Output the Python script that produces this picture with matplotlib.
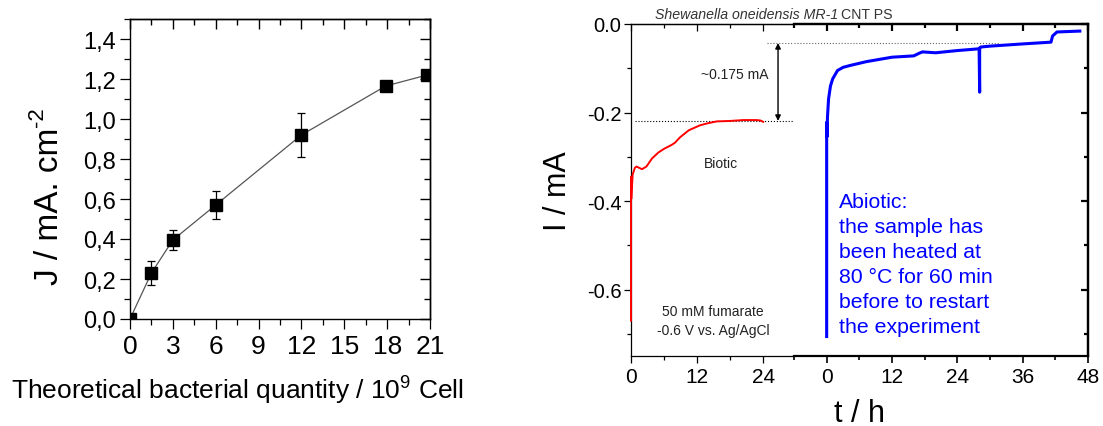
import matplotlib
matplotlib.use('Agg')
import matplotlib.pyplot as plt
from matplotlib.ticker import MultipleLocator, FixedLocator, FuncFormatter

plt.rcParams['font.family'] = ['Liberation Sans', 'DejaVu Sans']
plt.rcParams['mathtext.fontset'] = 'custom'
plt.rcParams['mathtext.rm'] = 'Liberation Sans'

#----------------------------------------------------------
# left panel : current density vs bacterial quantity
cells_x   = [0, 1.5, 3, 6, 12, 17.9, 20.8]
density_j = [0.0, 0.23, 0.395, 0.57, 0.92, 1.165, 1.22]
density_e = [0.0, 0.06, 0.05, 0.068, 0.11, 0.0, 0.0]

# right panel : chronoamperometry, biotic (red) and abiotic (blue)
bio_t = [0, 0, 0.05, 0.3, 0.7, 1.0, 2.0, 2.8, 3.8, 5.0, 6.0, 7.4, 8.0, 8.9,
         10.5, 12.5, 14.0, 15.6, 18.0, 20.4, 22.8, 23.5, 24.0]
bio_i = [-0.67, -0.345, -0.395, -0.34, -0.325, -0.322, -0.328, -0.322, -0.304,
         -0.29, -0.282, -0.273, -0.268, -0.256, -0.24, -0.229, -0.224, -0.220,
         -0.219, -0.217, -0.217, -0.218, -0.221]

abio_t = [0, 0, 0.05, 0.15, 0.35, 0.7, 1.1, 2.0, 3.0, 4.2, 7.3, 12, 16, 17,
          17.6, 20, 24, 28.0, 28.1, 28.1, 28.3, 30, 36, 41.2, 41.5, 42.3, 46.5]
abio_i = [-0.706, -0.222, -0.255, -0.21, -0.169, -0.14, -0.124, -0.105, -0.098,
          -0.094, -0.085, -0.075, -0.072, -0.066, -0.063, -0.065, -0.06, -0.056,
          -0.154, -0.054, -0.052, -0.05, -0.045, -0.041, -0.027, -0.018, -0.016]

biotic_level  = -0.219
abiotic_level = -0.043

W, H = 1103, 427
fig = plt.figure(figsize=(W/100, H/100), dpi=100)

#----------------------------------------------------------
def mirror_ticks(ax, top=True, right=True, xminor=None, yminor=None, length=(6, 3), lw=0.9):
	#Origin style: mirrored ticks pointing inwards on top/right
	if top:
		sx = ax.secondary_xaxis('top')
		sx.set_xticks(ax.get_xticks())
		if xminor is not None:
			sx.xaxis.set_minor_locator(xminor)
		sx.tick_params(which='both', direction='in', labeltop=False, width=lw)
		sx.tick_params(which='major', length=length[0])
		sx.tick_params(which='minor', length=length[1])
		sx.spines['top'].set_linewidth(lw)
	if right:
		sy = ax.secondary_yaxis('right')
		sy.set_yticks(ax.get_yticks())
		if yminor is not None:
			sy.yaxis.set_minor_locator(yminor)
		sy.tick_params(which='both', direction='in', labelright=False, width=lw)
		sy.tick_params(which='major', length=length[0])
		sy.tick_params(which='minor', length=length[1])
		sy.spines['right'].set_linewidth(lw)

#----------------------------------------------------------
axL = fig.add_axes([130/W, 107/H, 300/W, 300/H])
axL.plot(cells_x, density_j, color='#555555', lw=0.9, zorder=2)
axL.errorbar(cells_x, density_j, yerr=density_e, fmt='none', ecolor='black',
	elinewidth=0.9, capsize=3, capthick=0.9, zorder=3)
axL.plot(cells_x, density_j, ls='none', marker='s', ms=9, color='black', zorder=4)
axL.set_xlim(0, 21)
axL.set_ylim(0, 1.5)
axL.set_xticks([0, 3, 6, 9, 12, 15, 18, 21])
axL.set_yticks([0, 0.2, 0.4, 0.6, 0.8, 1.0, 1.2, 1.4])
axL.xaxis.set_minor_locator(MultipleLocator(1.5))
axL.yaxis.set_minor_locator(MultipleLocator(0.1))
axL.yaxis.set_major_formatter(FuncFormatter(lambda v, p: ('%.1f' % v).replace('.', ',')))
axL.tick_params(which='both', direction='out', width=0.9)
axL.tick_params(which='major', length=7)
axL.tick_params(which='minor', length=4)
axL.tick_params(axis='y', labelsize=17, pad=3)
axL.tick_params(axis='x', labelsize=19, pad=4)
for s in axL.spines.values():
	s.set_linewidth(1.0)
mirror_ticks(axL, xminor=MultipleLocator(1.5), yminor=MultipleLocator(0.1), length=(7, 4), lw=1.0)

# y label with a plain hyphen superscript
ylab = fig.text(49/W, 1 - 285/H, 'J / mA. cm', rotation=90, ha='center', va='bottom', fontsize=24)
bb = ylab.get_window_extent(fig.canvas.get_renderer())
fig.text(37/W, (bb.y1 + 1)/H, '-2', rotation=90, ha='center', va='bottom', fontsize=16)
fig.text(237/W, 1 - 400/H, r'Theoretical bacterial quantity / 10$\mathregular{^{9}}$ Cell',
	ha='center', va='baseline', fontsize=19)

#----------------------------------------------------------
# right panel, broken time axis
y0, h0 = 70/H, 332/H
ax1 = fig.add_axes([631/W, y0, 163/W, h0])
ax2 = fig.add_axes([794/W, y0, 294/W, h0], sharey=ax1)

ax1.plot(bio_t, bio_i, color='#ff0000', lw=1.4, zorder=3, clip_on=False)
ax2.plot(abio_t, abio_i, color='#0000ff', lw=2.2, zorder=3)

ax1.set_xlim(0, 29.6)
ax2.set_xlim(-6, 48)
ax1.set_ylim(-0.75, 0)
ax1.set_xticks([0, 12, 24])
ax1.xaxis.set_minor_locator(FixedLocator([6, 18]))
ax2.set_xticks([0, 12, 24, 36, 48])
ax2.xaxis.set_minor_locator(FixedLocator([-6, 6, 18, 30, 42]))
ax1.set_yticks([-0.6, -0.4, -0.2, 0.0])
ax1.yaxis.set_minor_locator(MultipleLocator(0.1))
ax1.yaxis.set_major_formatter(FuncFormatter(lambda v, p: '%.1f' % v if abs(v) > 1e-9 else '0.0'))

ax1.spines['right'].set_visible(False)
ax2.spines['left'].set_visible(False)
for s in ax1.spines.values():
	s.set_linewidth(0.9)
for s in ax2.spines.values():
	s.set_linewidth(1.6)

ax1.tick_params(which='both', direction='out', width=0.9)
ax1.tick_params(which='major', length=5)
ax1.tick_params(which='minor', length=3)
ax1.tick_params(axis='y', labelsize=14.5, pad=2)
ax1.tick_params(axis='x', labelsize=15, pad=3)
mirror_ticks(ax1, right=False, xminor=FixedLocator([6, 18]), length=(5, 3), lw=0.9)
ax2.tick_params(axis='y', which='both', left=False, labelleft=False)
ax2.tick_params(axis='x', which='both', direction='out', width=1.2, labelsize=15, pad=3)
ax2.tick_params(axis='x', which='major', length=5)
ax2.tick_params(axis='x', which='minor', length=3)
mirror_ticks(ax2, xminor=FixedLocator([-6, 6, 18, 30, 42]), yminor=MultipleLocator(0.1),
	length=(5, 3), lw=1.6)

# reference levels and arrow
ax1.plot([0.7, 30], [biotic_level]*2, ls=':', color='black', lw=0.8, clip_on=False)
ax1.plot([24.7, 29.6], [abiotic_level]*2, ls=':', color='#666666', lw=0.8)
ax2.plot([-6, 31.8], [abiotic_level]*2, ls=':', color='#666666', lw=0.8)
ax1.annotate('', xy=(26.7, biotic_level), xytext=(26.7, abiotic_level),
	arrowprops=dict(arrowstyle='<|-|>', color='black', lw=1, mutation_scale=8,
		shrinkA=0, shrinkB=0))

ax1.text(18.9, -0.113, '~0.175 mA', ha='center', va='center', fontsize=10, color='#222222')
ax1.text(16.3, -0.313, 'Biotic', ha='center', va='center', fontsize=10, color='#222222')
ax1.text(14.9, -0.67, '50 mM fumarate\n-0.6 V vs. Ag/AgCl', ha='center', va='center',
	fontsize=10, color='#222222', linespacing=1.5)
ax2.text(2.3, -0.38, 'Abiotic:\nthe sample has\nbeen heated at\n80 °C for 60 min\nbefore to restart\nthe experiment',
	ha='left', va='top', fontsize=15.3, color='#0000ff', linespacing=1.4)

fig.text(838/W, 1 - 19/H, 'Shewanella oneidensis MR-1', ha='right', va='baseline',
	fontsize=10.2, style='italic', color='#333333')
fig.text(841/W, 1 - 19/H, 'CNT PS', ha='left', va='baseline', fontsize=10.2, color='#333333')

fig.text(558/W, 1 - 191/H, 'I / mA', rotation=90, ha='center', va='center', fontsize=22)
fig.text(859/W, 1 - 422/H, 't / h', ha='center', va='baseline', fontsize=22)

fig.savefig('out.png', dpi=100)
